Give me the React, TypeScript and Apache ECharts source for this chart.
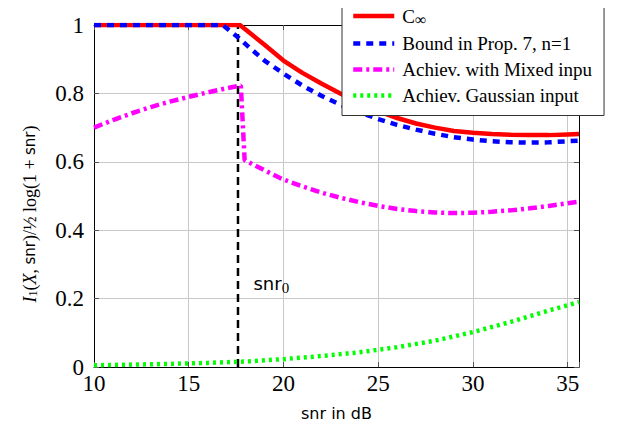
import React, { useEffect, useRef } from "react";
import * as echarts from "echarts";

// C_infinity
const capX = [10, 12, 14, 16, 17.7, 18, 19, 20, 21, 22, 23, 24, 25, 26, 27, 28, 29, 30, 31, 32, 33, 34, 35, 35.6];
const capY = [1, 1, 1, 1, 1, 0.987, 0.942, 0.896, 0.86, 0.829, 0.8, 0.772, 0.748, 0.728, 0.712, 0.7, 0.69, 0.685, 0.681, 0.679, 0.678, 0.678, 0.68, 0.681];
// Bound in Prop. 7, n=1
const boundX = [10, 14, 16.8, 17.2, 17.6, 18.2, 19, 20, 21, 22, 23, 24, 25, 26, 27, 28, 29, 30, 31, 32, 33, 34, 35, 35.6];
const boundY = [1, 1, 1, 0.982, 0.964, 0.934, 0.896, 0.858, 0.823, 0.793, 0.767, 0.745, 0.725, 0.708, 0.694, 0.682, 0.672, 0.665, 0.66, 0.657, 0.656, 0.657, 0.66, 0.662];
// Achiev. with Mixed input
const mixX = [10, 11, 12, 13, 14, 15, 16, 17, 17.75, 17.95, 19, 20, 21, 22, 23, 24, 25, 26, 27, 28, 29, 30, 31, 32, 33, 34, 35, 35.6];
const mixY = [0.7, 0.722, 0.742, 0.76, 0.776, 0.79, 0.803, 0.815, 0.823, 0.605, 0.575, 0.548, 0.528, 0.51, 0.495, 0.482, 0.471, 0.462, 0.456, 0.452, 0.45, 0.451, 0.454, 0.458, 0.464, 0.471, 0.479, 0.483];
// Achiev. Gaussian input
const gaussX = [10, 12, 14, 16, 18, 20, 22, 24, 26, 28, 30, 32, 34, 35.6];
const gaussY = [0.005, 0.007, 0.009, 0.012, 0.016, 0.023, 0.032, 0.043, 0.058, 0.077, 0.102, 0.132, 0.165, 0.19];
// snr_0 marker
const snr0 = 17.6;
const snr0LabelY = 0.243;

const seriesNames = ["C∞", "Bound in Prop. 7, n=1", "Achiev. with Mixed inpu", "Achiev. Gaussian input"];

const serif = "'Liberation Serif', 'Times New Roman', serif";
const sans = "'DejaVu Sans', 'Noto Sans', sans-serif";

export default function App() {
  const ref = useRef<HTMLDivElement>(null);
  useEffect(() => {
    const chart = echarts.init(ref.current!, null, { renderer: "svg" });
    const zip = (xs: number[], ys: number[]) => xs.map((x, i) => [x, ys[i]]);
    const tickRich = { d: { fontFamily: serif, fontSize: 23, color: "#000" } };
    const frameAxisX = {
      type: "value", min: 10, max: 35.6, interval: 5,
      axisLine: { show: true, onZero: false, lineStyle: { color: "#000", width: 1 } },
      axisTick: { show: true, inside: true, length: 5, lineStyle: { color: "#555" } },
    };
    const frameAxisY = {
      type: "value", min: 0, max: 1, interval: 0.2,
      axisLine: { show: true, onZero: false, lineStyle: { color: "#000", width: 1 } },
      axisTick: { show: true, inside: true, length: 5, lineStyle: { color: "#555" } },
    };
    chart.setOption({
      animation: false,
      backgroundColor: "#fff",
      textStyle: { fontFamily: serif },
      grid: { left: 94, right: 41, top: 25, bottom: 65 },
      xAxis: [
        {
          ...frameAxisX,
          position: "bottom",
          name: "snr in dB",
          nameLocation: "middle",
          nameGap: 38,
          nameTextStyle: { fontFamily: sans, fontSize: 16, color: "#000" },
          axisLabel: {
            fontFamily: serif, fontSize: 23, color: "#000", margin: 5,
            rich: tickRich,
            formatter: (v: number) => (Math.abs(v % 5) < 1e-9 ? "{d|" + String(v) + "}" : ""),
          },
          splitLine: { show: true, lineStyle: { color: "#c8c8c8", width: 1 } },
        },
        { ...frameAxisX, position: "top", axisLabel: { show: false }, splitLine: { show: false } },
      ],
      yAxis: [
        {
          ...frameAxisY,
          position: "left",
          name: "{it|I}{sb|1}{n|(}{it|X}{n|, }{s|snr}{n|)/}{n|½ log(1 + }{s|snr}{n|)}",
          nameLocation: "middle",
          nameGap: 55,
          nameTextStyle: {
            color: "#000",
            padding: [0, 36, 0, 0],
            rich: {
              it: { fontFamily: serif, fontStyle: "italic", fontSize: 18, color: "#000" },
              sb: { fontFamily: serif, fontSize: 12, color: "#000", padding: [7, 0, 0, 0] },
              n: { fontFamily: serif, fontSize: 18, color: "#000" },
              s: { fontFamily: sans, fontSize: 15, color: "#000" },
            },
          },
          axisLabel: {
            fontFamily: serif, fontSize: 23, color: "#000", margin: 10,
            rich: tickRich,
            formatter: (v: number) => "{d|" + String(Math.round(v * 10) / 10) + "}",
          },
          splitLine: { show: true, lineStyle: { color: "#c8c8c8", width: 1 } },
        },
        { ...frameAxisY, position: "right", axisLabel: { show: false }, splitLine: { show: false } },
      ],
      legend: {
        data: seriesNames,
        orient: "vertical",
        left: 342,
        top: -5,
        padding: [11, 12, 10, 9],
        itemWidth: 41,
        itemHeight: 14,
        itemGap: 6,
        backgroundColor: "#fff",
        borderColor: "#333",
        borderWidth: 1,
        borderRadius: 0,
        itemStyle: { opacity: 0 },
        lineStyle: { width: 4.5 },
        formatter: (name: string) => (name === "C∞" ? "{c|C}{i|∞}" : name),
        textStyle: {
          fontFamily: serif, fontSize: 19, color: "#000", lineHeight: 20, padding: [0, 0, 0, 3],
          rich: {
            c: { fontFamily: serif, fontSize: 19, color: "#000" },
            i: { fontFamily: serif, fontSize: 16, color: "#000", padding: [7, 0, 0, 0] },
          },
        },
      },
      series: [
        {
          name: "snr0",
          type: "line",
          data: [[snr0, 0], [snr0, 1]],
          symbol: "none",
          silent: true,
          lineStyle: { color: "#000", width: 2.5, type: [8, 5] },
          markPoint: {
            symbol: "circle",
            symbolSize: 1,
            silent: true,
            itemStyle: { color: "rgba(0,0,0,0)" },
            label: {
              show: true,
              position: "right",
              distance: 15,
              formatter: "{a|snr}{b|0}",
              rich: {
                a: { fontFamily: sans, fontSize: 18, color: "#000" },
                b: { fontFamily: serif, fontSize: 15, color: "#000", padding: [9, 0, 0, 0] },
              },
            },
            data: [{ coord: [snr0, snr0LabelY] }],
          },
        },
        {
          name: seriesNames[0], type: "line", data: zip(capX, capY), symbol: "none",
          lineStyle: { color: "#ff0000", width: 4.5 }, itemStyle: { color: "#ff0000" },
        },
        {
          name: seriesNames[1], type: "line", data: zip(boundX, boundY), symbol: "none",
          lineStyle: { color: "#0000ff", width: 4.5, type: [7, 6] }, itemStyle: { color: "#0000ff" },
        },
        {
          name: seriesNames[2], type: "line", data: zip(mixX, mixY), symbol: "none",
          lineStyle: { color: "#ff00ff", width: 4.5, type: [9, 4, 3, 4] }, itemStyle: { color: "#ff00ff" },
        },
        {
          name: seriesNames[3], type: "line", data: zip(gaussX, gaussY), symbol: "none",
          lineStyle: { color: "#00ff00", width: 4.5, type: [3, 4] }, itemStyle: { color: "#00ff00" },
        },
      ],
    });
    return () => chart.dispose();
  }, []);
  return <div ref={ref} style={{ width: 620, height: 432, margin: -8 }} />;
}
